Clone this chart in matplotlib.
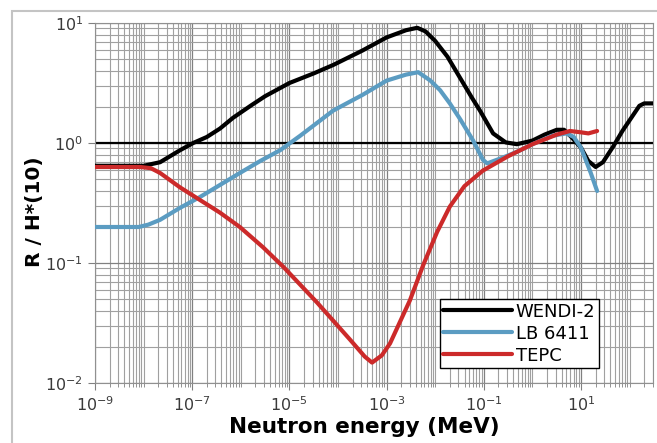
import numpy as np
import matplotlib
matplotlib.use("Agg")
import matplotlib.pyplot as plt
from matplotlib.ticker import FixedLocator, LogFormatterSciNotation, NullFormatter
from matplotlib.patches import Rectangle

plt.rcParams['font.family'] = ['DejaVu Sans']

# values, as log10(energy / MeV) and log10(R/H*(10))
wendi_logE = [-9, -8, -7.66, -7.25, -6.98, -6.7, -6.43, -6.16, -5.8, -5.5, -5.0, -4.5, -4.1,
              -3.5, -3.0, -2.6, -2.37, -2.2, -2.0, -1.75, -1.5, -1.25, -1.08, -0.81,
              -0.55, -0.32, 0.0, 0.25, 0.5, 0.65, 0.8, 1.0, 1.15, 1.3, 1.45, 1.66,
              1.85, 2.0, 2.2, 2.3, 2.48]
wendi_logR = [-0.19, -0.19, -0.16, -0.06, 0.0, 0.05, 0.12, 0.21, 0.31, 0.39, 0.50, 0.58, 0.65,
              0.77, 0.88, 0.94, 0.96, 0.93, 0.85, 0.72, 0.55, 0.38, 0.27, 0.08,
              0.005, -0.01, 0.02, 0.07, 0.11, 0.11, 0.05, -0.04, -0.15, -0.2, -0.16, -0.03,
              0.1, 0.19, 0.31, 0.33, 0.33]

lb_logE = [-9, -8.1, -7.9, -7.66, -7.25, -6.84, -6.43, -6.02, -5.6, -5.19, -4.78, -4.1,
           -3.5, -3.0, -2.6, -2.35, -2.1, -1.9, -1.7, -1.49, -1.22, -1.02, -0.93,
           -0.6, -0.3, 0.0, 0.4, 0.7, 0.85, 1.0, 1.2, 1.33]
lb_logR = [-0.70, -0.70, -0.68, -0.64, -0.54, -0.45, -0.35, -0.25, -0.15, -0.06, 0.06, 0.27,
           0.40, 0.52, 0.57, 0.59, 0.52, 0.44, 0.33, 0.2, 0.02, -0.14, -0.17,
           -0.12, -0.07, -0.01, 0.06, 0.08, 0.05, -0.04, -0.25, -0.40]

tepc_logE = [-9, -8.07, -7.85, -7.66, -7.25, -6.84, -6.43, -6.02, -5.54, -5.13, -4.43,
             -3.75, -3.45, -3.30, -3.1, -2.93, -2.52, -2.25, -1.96, -1.7, -1.4, -1.02,
             -0.5, 0.0, 0.5, 0.77, 0.98, 1.15, 1.33]
tepc_logR = [-0.2, -0.2, -0.21, -0.25, -0.37, -0.475, -0.58, -0.70, -0.87, -1.03, -1.33,
             -1.64, -1.78, -1.83, -1.77, -1.67, -1.31, -1.02, -0.74, -0.53, -0.36, -0.23,
             -0.11, -0.01, 0.07, 0.10, 0.09, 0.08, 0.10]

series = [("WENDI-2", wendi_logE, wendi_logR, "black"),
          ("LB 6411", lb_logE, lb_logR, "#5b9cc2"),
          ("TEPC", tepc_logE, tepc_logR, "#cc2a2a")]

fig = plt.figure(figsize=(6.57, 4.43), dpi=100)
fig.patches.append(Rectangle((12/657, -0.1), 1.1, 1 - 11/443 + 0.1, transform=fig.transFigure,
                             fill=False, edgecolor="#c4c4c4", lw=1.5))
ax = fig.add_axes([95/657, 60/443, 558/657, 360/443])
ax.set_xscale("log")
ax.set_yscale("log")
ax.set_xlim(1e-9, 10**2.48)
ax.set_ylim(1e-2, 1e1)

ax.grid(True, which="major", color="#808080", lw=0.9)
ax.grid(True, which="minor", color="#a0a0a0", lw=0.8)
ax.set_axisbelow(True)

ax.axhline(1.0, color="black", lw=1.6, zorder=2)

for name, le, lr, col in series:
    ax.plot(10**np.array(le), 10**np.array(lr), color=col, lw=3.0, label=name,
            solid_capstyle="round", solid_joinstyle="round", zorder=3)

ax.xaxis.set_major_locator(FixedLocator([1e-9, 1e-7, 1e-5, 1e-3, 1e-1, 1e1]))
ax.xaxis.set_major_formatter(LogFormatterSciNotation())
ax.xaxis.set_minor_locator(FixedLocator([10.0**k * m for k in range(-9, 3) for m in range(1, 10)]))
ax.xaxis.set_minor_formatter(NullFormatter())
ax.yaxis.set_minor_formatter(NullFormatter())

ax.tick_params(which="both", direction="out", colors="#808080", labelcolor="#3a3a3a",
               labelsize=11.5)
ax.tick_params(which="major", length=5)
ax.tick_params(which="minor", length=3)
ax.tick_params(axis="y", which="minor", length=0)
for s in ax.spines.values():
    s.set_color("#909090")

ax.set_xlabel("Neutron energy (MeV)", fontsize=15.5, fontweight="bold")
ax.set_ylabel("R / H*(10)", fontsize=14.5, fontweight="bold")
ax.xaxis.set_label_coords(0.482, -0.095)
ax.yaxis.set_label_coords(-0.092, 0.475)

leg = ax.legend(loc="upper left", bbox_to_anchor=(0.618, 0.233), fontsize=13,
                frameon=True, fancybox=False, edgecolor="black", framealpha=1,
                handlelength=3.8, handletextpad=0.2, borderpad=0.2, labelspacing=0.22,
                borderaxespad=0)
leg.get_frame().set_linewidth(1.0)

fig.savefig("out.png", dpi=100)
